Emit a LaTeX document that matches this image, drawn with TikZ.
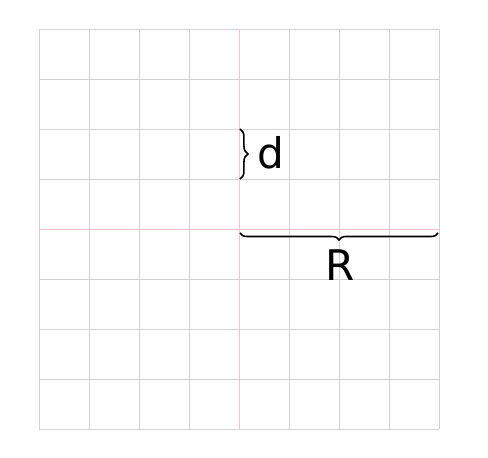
\documentclass[tikz,border=0pt]{standalone}
\usepackage{fontspec}
\setmainfont{DejaVu Sans}
\usetikzlibrary{decorations.pathreplacing}
\definecolor{gridgray}{RGB}{210,210,210}
\definecolor{axispink}{RGB}{255,192,203}
\begin{document}
\begin{tikzpicture}[
  gridline/.style={draw=gridgray, line width=0.5pt},
  axisline/.style={draw=axispink, line width=0.4pt},
  bracestyle/.style={draw=black, line width=0.9pt, decorate},
  lbl/.style={inner sep=0pt}
]
\useasboundingbox (-4.78,-4.58) rectangle (4.98,4.58);
\draw[gridline] (-4,-4) grid (4,4);
\draw[axisline] (0,-4) -- (0,4);
\draw[axisline] (-4,0) -- (4,0);
\coordinate (dtop) at (0.02,2);
\coordinate (dbot) at (0.02,1);
\coordinate (rright) at (3.98,-0.08);
\coordinate (rleft) at (0.02,-0.08);
\draw[bracestyle, decoration={brace, amplitude=4.5pt}] (dtop) -- (dbot);
\draw[bracestyle, decoration={brace, amplitude=4pt}] (rright) -- (rleft);
\node[lbl] (d) at (0.64,1.52) {\fontsize{24}{28}\selectfont d};
\node[lbl] (R) at (2.02,-0.72) {\fontsize{24}{28}\selectfont R};
\end{tikzpicture}
\end{document}
